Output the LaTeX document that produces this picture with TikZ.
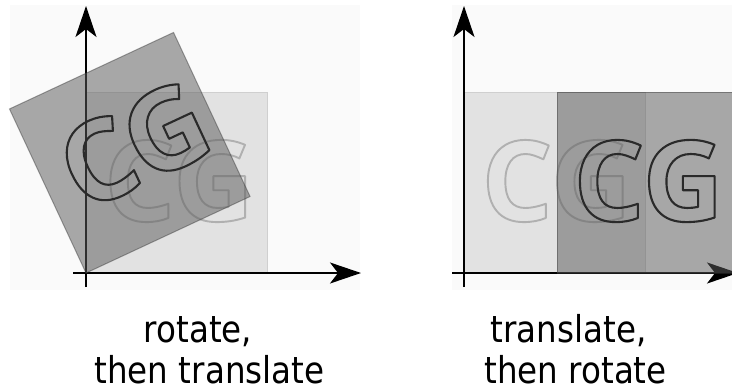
\documentclass[tikz,border=0pt]{standalone}
\usepackage{fontspec}
\setmainfont{DejaVu Sans}
\newfontfamily\cgfont{Open Sans}
\usetikzlibrary{arrows.meta}
\definecolor{panelbg}{HTML}{FAFAFA}
\definecolor{lightfill}{HTML}{E2E2E2}
\definecolor{lightedge}{HTML}{CFCFCF}
\definecolor{darkfill}{HTML}{5C5C5C}
\definecolor{darkedge}{HTML}{3A3A3A}
\definecolor{cglight}{HTML}{B0B0B0}
\definecolor{cgdark}{HTML}{2A2A2A}
\newcommand\outlinedtext[2]{\special{pdf:literal direct #1 w 1 j 1 Tr}#2\special{pdf:literal direct 0 Tr}}
\begin{document}
\begin{tikzpicture}[x=1pt,y=-1pt,
  axisline/.style={line width=2pt,black,-{Stealth[length=31pt,width=21pt,inset=8pt]}},
  lightsq/.style={fill=lightfill,draw=lightedge,line width=1pt,minimum size=181pt,inner sep=0pt,outer sep=0pt,anchor=south west},
  darksq/.style={fill=darkfill,fill opacity=0.52,draw=darkedge,draw opacity=0.45,line width=1pt,minimum size=181pt,inner sep=0pt,outer sep=0pt,anchor=south west},
  cgtext/.style={inner sep=0pt,font=\cgfont\bfseries\fontsize{112}{112}\selectfont},
  caption/.style={inner sep=0pt,anchor=base,xscale=0.88,font=\fontsize{37}{42}\selectfont}]
\useasboundingbox (0,0) rectangle (732,386);
% faint panel backgrounds
\fill[panelbg] (10,5) rectangle (360,290);
\fill[panelbg] (452,5) rectangle (732,290);
% light squares
\node[lightsq] (sqLa) at (86,273) {};
\node[lightsq] (sqRa) at (464,273) {};
% axes
\coordinate (oLb) at (86,287);
\coordinate (oLt) at (86,6);
\coordinate (oLl) at (73,273);
\coordinate (oLr) at (361,273);
\coordinate (oRb) at (464,287);
\coordinate (oRt) at (464,6);
\coordinate (oRl) at (452,273);
\coordinate (oRr) at (738,273);
\draw[axisline] (oLb) -- (oLt);
\draw[axisline] (oLl) -- (oLr);
\draw[axisline] (oRb) -- (oRt);
\draw[axisline] (oRl) -- (oRr);
% light CG
\begin{scope}
\node[cgtext,text=cglight] (cgLa) at (179,181) {\outlinedtext{1.9}{CG}};
\end{scope}
\begin{scope}
\node[cgtext,text=cglight] (cgRa) at (556.5,181) {\outlinedtext{1.9}{CG}};
\end{scope}
% dark squares
\node[darksq,rotate=25] (sqLb) at (86,273) {};
\node[darksq] (sqRb) at (557,273) {};
% dark CG
\begin{scope}
\node[cgtext,text=cgdark,rotate=25] (cgLb) at (134,145) {\outlinedtext{2.1}{CG}};
\end{scope}
\begin{scope}
\node[cgtext,text=cgdark] (cgRb) at (648.5,181) {\outlinedtext{2.1}{CG}};
\end{scope}
% captions
\node[caption] (capLa) at (198,342) {rotate,};
\node[caption] (capLb) at (209.5,383) {then translate};
\node[caption] (capRa) at (568.5,342) {translate,};
\node[caption] (capRb) at (575.5,383) {then rotate};
\end{tikzpicture}
\end{document}
